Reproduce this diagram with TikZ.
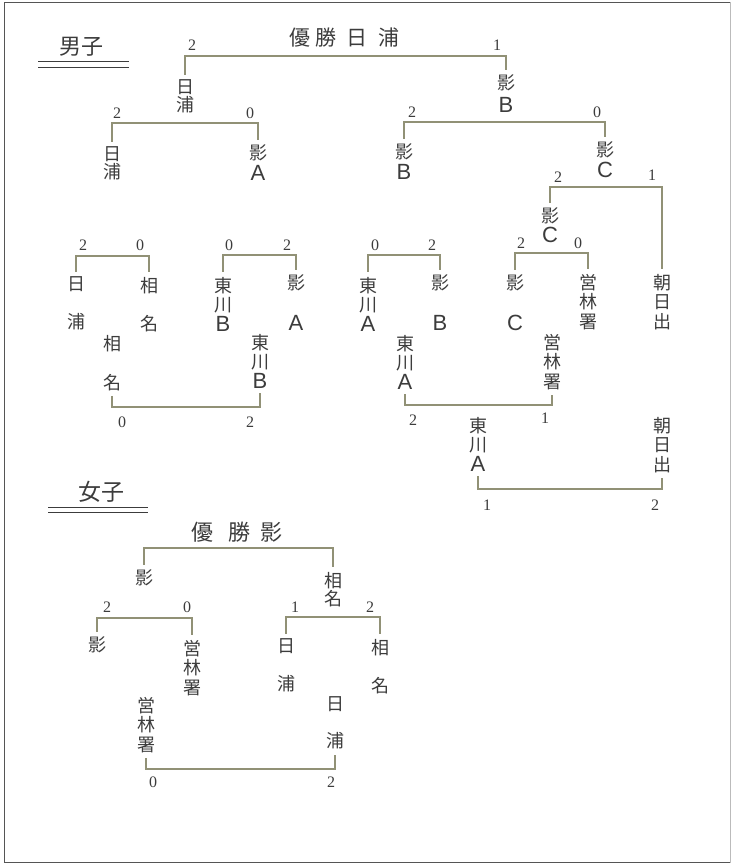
\documentclass[tikz,border=0pt]{standalone}
\usepackage{fontspec}
\newfontfamily\jp{Noto Sans CJK JP}
\newfontfamily\lat{Liberation Sans}
\newfontfamily\num{Liberation Serif}
\definecolor{txt}{RGB}{60,60,60}
\definecolor{ln}{RGB}{145,145,118}
\definecolor{framec}{RGB}{85,85,85}
\newcommand\LA[1]{{\lat\fontsize{22}{19.5}\selectfont #1}}
\tikzset{
  team/.style={font=\jp\fontsize{18}{19.5}\selectfont, align=center, text=txt,
    inner xsep=1pt, inner ysep=5pt, anchor=north, yshift=13.2pt},
  score/.style={font=\num\fontsize{16}{16}\selectfont, text=txt, inner sep=0pt},
  title/.style={font=\jp\fontsize{22}{22}\selectfont, text=txt, inner sep=0pt},
  link/.style={draw=ln, line width=1.1pt},
  rule/.style={draw=txt, line width=0.9pt},
}
\begin{document}
\begin{tikzpicture}[x=1pt,y=-1pt]
\useasboundingbox (0,0) rectangle (732,866);
% frame
\draw[framec, line width=1.8pt] (730.5,2.5) -- (4.5,2.5) -- (4.5,862.5) -- (730.5,862.5);
\draw[framec!40, line width=1pt] (730.5,2.5) -- (730.5,862.5);

% ---------------- men ----------------
\node[title] (menT) at (81,47) {男子};
\draw[rule] (38,61) -- (129,61);
\draw[rule] (38,67) -- (129,67);
\node[title, font=\jp\fontsize{21}{21}\selectfont] (menW) at (344,38) {優\hspace{6pt}勝\hspace{10pt}日\hspace{10pt}浦};

\node[team] (m1) at (185,88) {日\\[-2pt]浦};
\node[team] (m2) at (506,83) {影\\[3pt]\LA{B}};
\node[team] (m3) at (112,155) {日\\[-2pt]浦};
\node[team] (m4) at (258,153) {影\\[1pt]\LA{A}};
\node[team] (m5) at (404,152) {影\\[1pt]\LA{B}};
\node[team] (m6) at (605,150) {影\\[1pt]\LA{C}};
\node[team] (m7) at (550,216) {影\\[0pt]\LA{C}};
\node[team] (m8) at (662,282) {朝\\日\\出};
\node[team] (m9) at (515,283) {影\\[21pt]\LA{C}};
\node[team] (m10) at (588,282) {営\\林\\署};
\node[team] (m11) at (368,285) {東\\川\\\LA{A}};
\node[team] (m12) at (440,283) {影\\[21pt]\LA{B}};
\node[team] (m13) at (405,343) {東\\川\\\LA{A}};
\node[team] (m14) at (552,342) {営\\林\\署};
\node[team] (m15) at (478,425) {東\\川\\\LA{A}};
\node[team] (m16) at (662,425) {朝\\日\\出};
\node[team] (m17) at (76,285) {日\\[18.5pt]浦};
\node[team] (m18) at (149,285) {相\\[18.5pt]名};
\node[team] (m19) at (223,285) {東\\川\\\LA{B}};
\node[team] (m20) at (296,283) {影\\[21pt]\LA{A}};
\node[team] (m21) at (112,343) {相\\[19.5pt]名};
\node[team] (m22) at (260,342) {東\\川\\\LA{B}};

\draw[link] (m1.north) -- (m1.north |- 0,56) -| (m2.north);
\draw[link] (m3.north) -- (m3.north |- 0,123) -| (m4.north);
\draw[link] (m5.north) -- (m5.north |- 0,122) -| (m6.north);
\draw[link] (m7.north) -- (m7.north |- 0,187) -| (m8.north);
\draw[link] (m9.north) -- (m9.north |- 0,253) -| (m10.north);
\draw[link] (m11.north) -- (m11.north |- 0,255) -| (m12.north);
\draw[link] (m13.south) -- (m13.south |- 0,405) -| (m14.south);
\draw[link] (m15.south) -- (m15.south |- 0,489) -| (m16.south);
\draw[link] (m17.north) -- (m17.north |- 0,256) -| (m18.north);
\draw[link] (m19.north) -- (m19.north |- 0,255) -| (m20.north);
\draw[link] (m21.south) -- (m21.south |- 0,407) -| (m22.south);

\node[score] (s1) at (192,45) {2};
\node[score] (s2) at (497,45) {1};
\node[score] (s3) at (117,113) {2};
\node[score] (s4) at (250,113) {0};
\node[score] (s5) at (412,112) {2};
\node[score] (s6) at (597,112) {0};
\node[score] (s7) at (558,177) {2};
\node[score] (s8) at (652,175) {1};
\node[score] (s9) at (521,243) {2};
\node[score] (s10) at (578,243) {0};
\node[score] (s11) at (375,245) {0};
\node[score] (s12) at (432,245) {2};
\node[score] (s13) at (413,420) {2};
\node[score] (s14) at (545,418) {1};
\node[score] (s15) at (487,505) {1};
\node[score] (s16) at (655,505) {2};
\node[score] (s17) at (83,245) {2};
\node[score] (s18) at (140,245) {0};
\node[score] (s19) at (229,245) {0};
\node[score] (s20) at (287,245) {2};
\node[score] (s21) at (122,422) {0};
\node[score] (s22) at (250,422) {2};

% ---------------- women ----------------
\node[title, font=\jp\fontsize{23}{23}\selectfont] (womT) at (101,492) {女子};
\draw[rule] (48,507) -- (148,507);
\draw[rule] (48,512) -- (148,512);
\node[title] (womW) at (237,532) {優\hspace{16pt}勝\hspace{10pt}影};

\node[team] (w1) at (144,578) {影};
\node[team] (w2) at (333,580) {相\\[-1.5pt]名};
\node[team] (w3) at (97,645) {影};
\node[team] (w4) at (192,648) {営\\林\\署};
\node[team] (w5) at (286,647) {日\\[18.5pt]浦};
\node[team] (w6) at (380,647) {相\\[18.5pt]名};
\node[team] (w7) at (146,705) {営\\林\\署};
\node[team] (w8) at (335,705) {日\\[17.5pt]浦};

\draw[link] (w1.north) -- (w1.north |- 0,548) -| (w2.north);
\draw[link] (w3.north) -- (w3.north |- 0,618) -| (w4.north);
\draw[link] (w5.north) -- (w5.north |- 0,617) -| (w6.north);
\draw[link] (w7.south) -- (w7.south |- 0,769) -| (w8.south);

\node[score] (t1) at (107,607) {2};
\node[score] (t2) at (187,607) {0};
\node[score] (t3) at (295,607) {1};
\node[score] (t4) at (370,607) {2};
\node[score] (t5) at (153,782) {0};
\node[score] (t6) at (331,782) {2};
\end{tikzpicture}
\end{document}
